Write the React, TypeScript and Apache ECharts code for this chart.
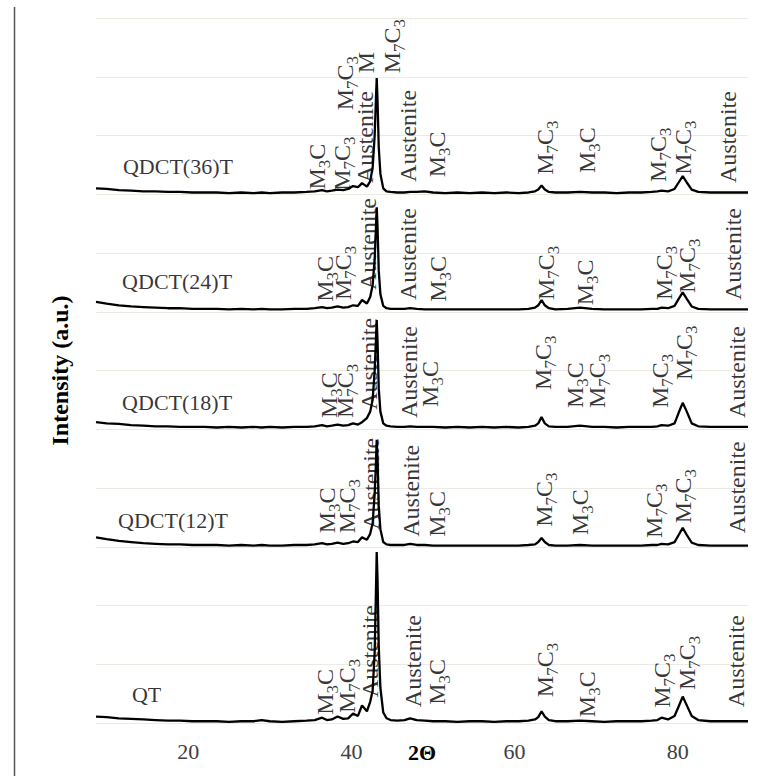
import React, { useEffect, useRef } from 'react';
import * as echarts from 'echarts';

const SERIF = "'Liberation Serif', 'Times New Roman', serif";

// 2θ sampling positions shared by all patterns (degrees)
const twoTheta = [
  8.7, 10, 11.5, 13, 14.5, 16, 17.5, 19, 20.5, 22,
  23.5, 25, 26.5, 28, 29, 30, 31.5, 33, 34.5, 35.5,
  36.4, 37, 37.6, 38.3, 39, 39.6, 40.2, 40.8, 41.3, 41.9,
  42.3, 42.6, 42.85, 43.0, 43.1, 43.2, 43.35, 43.55, 43.9, 44.3,
  44.8, 45.6, 46.5, 47.2, 48, 49, 50, 51.5, 53, 54.5,
  56, 57.5, 59, 60.5, 61.7, 62.5, 62.9, 63.3, 63.7, 64.2,
  65, 66.5, 68, 69.5, 71, 72.5, 74, 75.5, 76.8, 77.5,
  78, 78.8, 79.6, 80.1, 80.6, 81.1, 81.7, 82.5, 84, 85.5,
  87, 88.6,
];

// Stacked diffraction patterns (intensity, a.u., offset per sample)
const intensityQT = [
  0.11, 0.10, 0.08, 0.07, 0.06, 0.05, 0.04, 0.04, 0.03, 0.03,
  0.03, 0.02, 0.03, 0.03, 0.05, 0.03, 0.02, 0.03, 0.04, 0.05,
  0.09, 0.05, 0.06, 0.11, 0.07, 0.08, 0.16, 0.12, 0.30, 0.20,
  0.36, 0.55, 1.20, 2.20, 2.91, 2.45, 1.30, 0.60, 0.18, 0.08,
  0.05, 0.04, 0.05, 0.08, 0.05, 0.04, 0.03, 0.03, 0.02, 0.03,
  0.03, 0.02, 0.03, 0.03, 0.04, 0.06, 0.10, 0.20, 0.11, 0.05,
  0.03, 0.03, 0.04, 0.03, 0.02, 0.03, 0.03, 0.03, 0.04, 0.05,
  0.09, 0.06, 0.12, 0.28, 0.45, 0.30, 0.12, 0.05, 0.03, 0.03,
  0.03, 0.03,
];
const intensity12 = [
  3.16, 3.13, 3.10, 3.08, 3.06, 3.05, 3.04, 3.04, 3.03, 3.03,
  3.03, 3.02, 3.03, 3.02, 3.03, 3.02, 3.02, 3.03, 3.03, 3.04,
  3.06, 3.04, 3.05, 3.07, 3.05, 3.06, 3.09, 3.08, 3.16, 3.12,
  3.22, 3.40, 3.90, 4.40, 4.82, 4.50, 3.70, 3.30, 3.08, 3.04,
  3.03, 3.03, 3.03, 3.05, 3.03, 3.03, 3.02, 3.02, 3.02, 3.02,
  3.02, 3.02, 3.02, 3.02, 3.03, 3.04, 3.08, 3.15, 3.08, 3.03,
  3.02, 3.02, 3.03, 3.02, 3.02, 3.02, 3.02, 3.02, 3.03, 3.03,
  3.05, 3.04, 3.08, 3.20, 3.32, 3.20, 3.07, 3.03, 3.02, 3.02,
  3.02, 3.02,
];
const intensity18 = [
  5.12, 5.10, 5.09, 5.07, 5.06, 5.05, 5.05, 5.04, 5.04, 5.04,
  5.03, 5.04, 5.03, 5.04, 5.03, 5.04, 5.03, 5.04, 5.04, 5.05,
  5.07, 5.05, 5.06, 5.08, 5.06, 5.07, 5.10, 5.08, 5.12, 5.19,
  5.30, 5.50, 6.00, 6.50, 6.86, 6.50, 5.70, 5.30, 5.10, 5.06,
  5.05, 5.04, 5.04, 5.05, 5.04, 5.04, 5.04, 5.03, 5.04, 5.03,
  5.04, 5.03, 5.04, 5.03, 5.04, 5.06, 5.10, 5.21, 5.10, 5.05,
  5.04, 5.04, 5.06, 5.04, 5.04, 5.03, 5.04, 5.04, 5.04, 5.05,
  5.07, 5.06, 5.10, 5.28, 5.45, 5.30, 5.10, 5.05, 5.04, 5.04,
  5.04, 5.04,
];
const intensity24 = [
  7.17, 7.14, 7.11, 7.09, 7.08, 7.07, 7.06, 7.06, 7.05, 7.05,
  7.05, 7.04, 7.05, 7.04, 7.05, 7.04, 7.04, 7.05, 7.05, 7.06,
  7.08, 7.06, 7.07, 7.09, 7.07, 7.08, 7.11, 7.10, 7.20, 7.14,
  7.25, 7.45, 7.90, 8.40, 8.78, 8.45, 7.70, 7.30, 7.10, 7.06,
  7.05, 7.05, 7.05, 7.06, 7.05, 7.04, 7.04, 7.04, 7.04, 7.04,
  7.04, 7.04, 7.04, 7.04, 7.05, 7.07, 7.11, 7.20, 7.11, 7.06,
  7.04, 7.05, 7.07, 7.05, 7.04, 7.04, 7.04, 7.04, 7.05, 7.05,
  7.07, 7.06, 7.10, 7.22, 7.33, 7.22, 7.09, 7.05, 7.04, 7.04,
  7.04, 7.04,
];
const intensity36 = [
  9.10, 9.09, 9.07, 9.06, 9.05, 9.05, 9.04, 9.04, 9.03, 9.03,
  9.03, 9.02, 9.03, 9.02, 9.03, 9.02, 9.03, 9.03, 9.04, 9.05,
  9.07, 9.05, 9.06, 9.08, 9.07, 9.09, 9.14, 9.12, 9.19, 9.13,
  9.22, 9.45, 10.0, 10.6, 10.98, 10.6, 9.80, 9.35, 9.10, 9.05,
  9.04, 9.03, 9.03, 9.04, 9.04, 9.05, 9.03, 9.02, 9.03, 9.02,
  9.03, 9.02, 9.03, 9.02, 9.03, 9.05, 9.08, 9.15, 9.08, 9.04,
  9.03, 9.03, 9.04, 9.03, 9.03, 9.02, 9.03, 9.03, 9.04, 9.05,
  9.06, 9.05, 9.09, 9.20, 9.31, 9.20, 9.08, 9.04, 9.03, 9.03,
  9.03, 9.03,
];

// Sample names: [name, 2θ of text start, intensity of text middle]
const sampleNames: [string, number, number][] = [
  ['QDCT(36)T', 12.0, 9.48],
  ['QDCT(24)T', 11.9, 7.51],
  ['QDCT(18)T', 11.9, 5.45],
  ['QDCT(12)T', 11.4, 3.44],
  ['QT', 13.1, 0.48],
];

// Phase annotations: [2θ, intensity where the text starts, phase]
const phases36: [number, number, string][] = [
  [35.83, 9.08, 'M3C'], [38.79, 9.06, 'M7C3'], [41.65, 9.19, 'Austenite'],
  [39.2, 10.43, 'M7C3'], [41.77, 11.06, 'M'], [44.92, 11.06, 'M7C3'],
  [46.92, 9.21, 'Austenite'], [50.47, 9.29, 'M3C'], [63.7, 9.33, 'M7C3'],
  [68.85, 9.36, 'M3C'], [77.55, 9.21, 'M7C3'], [80.61, 9.33, 'M7C3'],
  [86.12, 9.19, 'Austenite'],
];
const phases24: [number, number, string][] = [
  [36.75, 7.17, 'M3C'], [38.92, 7.2, 'M7C3'], [42.02, 7.37, 'Austenite'],
  [46.92, 7.2, 'Austenite'], [50.59, 7.17, 'M3C'], [63.82, 7.2, 'M7C3'],
  [68.6, 7.11, 'M3C'], [78.28, 7.2, 'M7C3'], [81.1, 7.32, 'M7C3'],
  [86.74, 7.2, 'Austenite'],
];
const phases18: [number, number, string][] = [
  [37.24, 5.19, 'M3C'], [39.2, 5.19, 'M7C3'], [42.14, 5.33, 'Austenite'],
  [47.04, 5.19, 'Austenite'], [49.61, 5.38, 'M3C'], [63.46, 5.67, 'M7C3'],
  [67.38, 5.36, 'M3C'], [70.07, 5.36, 'M7C3'], [77.79, 5.36, 'M7C3'],
  [80.73, 5.84, 'M7C3'], [87.23, 5.19, 'Austenite'],
];
const phases12: [number, number, string][] = [
  [36.99, 3.23, 'M3C'], [39.44, 3.23, 'M7C3'], [42.38, 3.29, 'Austenite'],
  [47.29, 3.17, 'Austenite'], [50.47, 3.17, 'M3C'], [63.58, 3.34, 'M7C3'],
  [67.99, 3.2, 'M3C'], [77.06, 3.15, 'M7C3'], [80.61, 3.4, 'M7C3'],
  [87.23, 3.23, 'Austenite'],
];
const phasesQT: [number, number, string][] = [
  [36.75, 0.14, 'M3C'], [39.44, 0.17, 'M7C3'], [42.26, 0.44, 'Austenite'],
  [47.53, 0.27, 'Austenite'], [50.47, 0.31, 'M3C'], [63.7, 0.44, 'M7C3'],
  [68.85, 0.1, 'M3C'], [78.04, 0.26, 'M7C3'], [81.1, 0.56, 'M7C3'],
  [87.11, 0.27, 'Austenite'],
];

const xTicks = [20, 40, 60, 80];

// Carbide formulas with subscript digits
function phaseText(p: string): string {
  if (p === 'M3C') return '{m|M}{s|3}{m|C}';
  if (p === 'M7C3') return '{m|M}{s|7}{m|C}{s|3}';
  return '{m|' + p + '}';
}

export default function App() {
  const ref = useRef<HTMLDivElement>(null);

  useEffect(() => {
    const chart = echarts.init(ref.current!, null, { renderer: 'svg' });

    const patterns = [intensityQT, intensity12, intensity18, intensity24, intensity36];
    const lineSeries = patterns.map((vals, k) => ({
      type: 'line',
      name: 'pattern' + k,
      data: twoTheta.map((t, i) => [t, vals[i]]),
      showSymbol: false,
      symbol: 'none',
      lineStyle: { color: '#000', width: 2.3 },
      z: 3,
      silent: true,
    }));

    const allPhases = [...phases36, ...phases24, ...phases18, ...phases12, ...phasesQT];

    const option: any = {
      animation: false,
      backgroundColor: '#fff',
      textStyle: { fontFamily: SERIF },
      grid: { left: 96, right: 21, top: 18, bottom: 53, outerBoundsMode: 'none', containLabel: false },
      xAxis: {
        type: 'value',
        min: 8.7,
        max: 88.6,
        name: '2Θ',
        nameLocation: 'middle',
        nameGap: 18,
        nameMoveOverlap: false,
        nameTextStyle: {
          fontFamily: SERIF, fontSize: 22, fontWeight: 'bold', color: '#000',
          verticalAlign: 'top',
        },
        axisLine: { show: false },
        axisTick: { show: false },
        splitLine: { show: false },
        axisLabel: {
          customValues: xTicks,
          fontFamily: SERIF,
          fontSize: 22,
          color: '#404040',
          margin: 17,
        },
      },
      yAxis: {
        type: 'value',
        min: 0,
        max: 12,
        interval: 1,
        name: 'Intensity (a.u.)',
        nameLocation: 'middle',
        nameGap: 24,
        nameMoveOverlap: false,
        nameTextStyle: {
          fontFamily: SERIF, fontSize: 24, fontWeight: 'bold', color: '#000',
        },
        axisLine: { show: false },
        axisTick: { show: false },
        axisLabel: { show: false },
        splitLine: { lineStyle: { color: '#ebebe3', width: 1.2 } },
      },
      graphic: [
        {
          type: 'line',
          shape: { x1: 14.5, y1: 7, x2: 14.5, y2: 776 },
          style: { stroke: '#555', lineWidth: 1.5 },
          silent: true,
        },
      ],
      series: [
        ...lineSeries,
        {
          type: 'scatter',
          name: 'phases',
          symbolSize: 0,
          silent: true,
          z: 5,
          data: allPhases.map((p) => [p[0], p[1], p[2]]),
          label: {
            show: true,
            position: [0, 0],
            rotate: 90,
            align: 'left',
            verticalAlign: 'middle',
            formatter: (prm: any) => phaseText(prm.data[2]),
            rich: {
              m: { fontFamily: SERIF, fontSize: 24, color: '#000', lineHeight: 32 },
              s: {
                fontFamily: SERIF, fontSize: 17, color: '#000', lineHeight: 17,
                verticalAlign: 'bottom',
              },
            },
          },
        },
        {
          type: 'scatter',
          name: 'samples',
          symbolSize: 0,
          silent: true,
          z: 5,
          data: sampleNames.map((s) => [s[1], s[2], s[0]]),
          label: {
            show: true,
            position: [0, 0],
            align: 'left',
            verticalAlign: 'middle',
            fontFamily: SERIF,
            fontSize: 22,
            color: '#000',
            formatter: (prm: any) => prm.data[2],
          },
        },
      ],
    };

    chart.setOption(option);
    return () => chart.dispose();
  }, []);

  return (
    <div
      ref={ref}
      style={{ position: 'fixed', left: 0, top: 0, width: 769, height: 776, background: '#fff' }}
    />
  );
}
